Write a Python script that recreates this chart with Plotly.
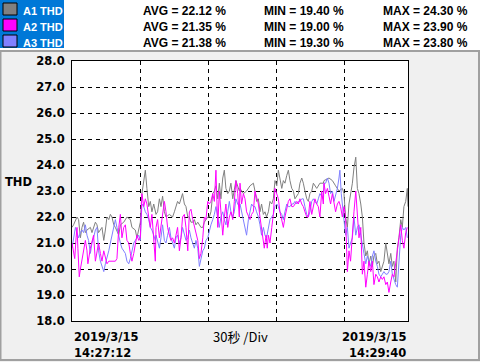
import plotly.graph_objects as go

# ---------------- data ----------------
series_names = ["A1 THD", "A2 THD", "A3 THD"]
series_colors = ["#808080", "#ff00ff", "#8080ff"]
avg_vals = [22.12, 21.35, 21.38]
min_vals = [19.40, 19.00, 19.30]
max_vals = [24.30, 23.90, 23.80]

start_label = ["2019/3/15", "14:27:12"]
end_label = ["2019/3/15", "14:29:40"]
div_label = "30秒 /Div"
y_title = "THD"
y_ticks = [18, 19, 20, 21, 22, 23, 24, 25, 26, 27, 28]

# seconds from start, THD %
a1_t = [0, 0.7, 2.2, 2.9, 3.7, 4.4, 5.1, 5.9, 6.6, 8.1, 8.8, 10.3, 11.0, 11.7, 13.2, 14.0, 14.7, 15.4, 16.2, 16.9,
        17.6, 18.4, 19.1, 20.6, 21.3, 22.8, 24.2, 25.7, 26.4, 27.9, 28.6, 29.4, 30.1, 30.8, 31.6, 32.3, 33.0, 33.8,
        34.5, 35.2, 36.0, 37.0,
        37.7, 38.5, 39.2, 39.9, 40.7, 41.4, 42.9, 44.3, 45.1, 46.5, 47.3, 48.0, 48.7, 49.5, 50.2, 51.0, 51.7, 52.4,
        53.2, 53.9, 54.6, 55.4, 56.1, 56.8, 57.6, 58.3, 59.0, 59.8, 60.5, 61.2, 62.0, 62.7, 63.4, 64.2, 64.9, 65.6,
        66.4, 67.1, 67.8, 68.6, 69.3, 70.0, 70.8, 72.2, 73.7,
        74.0, 75.5, 76.9, 78.4, 79.9, 80.6, 81.3, 82.1, 82.8, 83.5, 84.3, 85.0, 85.7, 86.5, 87.2, 88.0, 88.7, 89.4,
        90.2, 90.9, 91.6, 92.4, 93.1, 93.8, 94.6, 95.3, 96.0, 96.8, 97.5, 98.2, 99.7, 100.4, 101.2, 101.9, 102.6,
        103.4, 104.1, 104.8, 105.6, 106.3, 107.8, 109.2, 110.7,
        111.0, 113.2, 114.7, 116.1, 117.6, 119.1, 119.8, 120.5, 121.3, 122.0, 122.7, 123.5, 124.2, 125.0, 125.7,
        126.4, 127.2, 127.9, 128.6, 129.4, 130.1, 130.8, 131.6, 132.3, 133.0, 133.8, 134.5, 135.2, 136.0, 136.7,
        137.4, 138.2, 138.9, 139.6, 140.4, 141.1, 141.8, 142.6, 143.3, 144.0, 144.8, 145.5, 146.2, 147.0, 147.7,
        148.0]
a1_v = [21.6, 21.7, 22.0, 21.9, 21.2, 21.6, 21.8, 21.4, 21.5, 21.6, 21.4, 21.8, 21.7, 21.4, 21.6, 21.1, 21.5, 22.0,
        21.9, 22.1, 22.0, 21.7, 21.6, 21.3, 21.7, 21.8, 22.0, 21.9, 21.6, 21.5, 21.2, 21.6, 21.8, 22.9, 23.3, 23.8,
        23.1, 22.4, 22.6, 22.2, 22.5, 22.1,
        22.2, 22.7, 22.4, 22.8, 22.2, 22.0, 22.1, 22.0, 22.2, 22.6, 22.5, 22.7, 22.9, 22.5, 22.4, 22.0, 22.0, 21.8,
        21.8, 21.9, 21.7, 21.8, 21.7, 21.6, 21.6, 21.8, 21.9, 22.0, 22.0, 22.2, 22.9, 23.0, 23.2, 22.7, 23.3, 22.7,
        23.5, 23.8, 23.1, 22.9, 23.0, 23.3, 22.7, 23.4, 23.0,
        23.1, 22.9, 23.0, 23.2, 23.3, 23.0, 22.6, 22.7, 22.2, 22.5, 22.1, 22.2, 22.0, 22.2, 22.6, 22.5, 22.7, 23.4,
        23.2, 23.8, 23.4, 23.1, 23.4, 23.3, 23.6, 23.8, 23.4, 23.1, 23.0, 22.7, 22.9, 23.3, 23.5, 23.3, 23.0,
        22.7, 22.6, 22.9, 23.0, 23.3, 23.1, 23.3, 23.3,
        23.4, 23.5, 23.4, 23.2, 23.0, 23.1, 22.9, 22.0, 21.6, 22.5, 22.9, 23.3, 23.9, 24.3, 23.1,
        22.9, 22.5, 22.0, 21.0, 20.5, 20.7, 20.2, 20.5, 20.1, 20.5, 20.6, 20.2, 20.3, 19.9, 20.1,
        20.3, 21.0, 20.5, 20.2, 20.6, 20.1, 20.3, 19.5, 20.8, 21.2, 21.9, 21.6, 22.4, 22.6, 23.1,
        22.4]

a2_t = [0, 0.7, 1.2, 1.8, 2.2, 2.6, 3.2, 3.7, 4.4, 5.1, 5.9, 6.6, 7.0, 8.1, 8.8, 9.5, 10.3, 11.0, 11.7, 12.5, 13.2,
        14.0, 14.7, 15.4, 16.2, 16.9, 17.6, 19.1, 19.8, 20.6, 21.3, 22.0, 22.8, 23.5, 24.2, 25.0, 25.7, 26.4, 27.2,
        27.9, 28.6, 29.4, 30.1, 30.8, 31.6, 32.3, 33.0, 33.8, 34.5, 35.2, 36.0, 36.7,
        37.0, 37.7, 38.5, 39.2, 39.9, 40.7, 41.4, 42.1, 42.9, 43.6, 44.3, 45.1, 45.8, 46.5, 47.3, 48.0, 48.7, 49.5,
        50.2, 51.0, 51.7, 52.4, 53.2, 53.9, 54.6, 55.4, 56.1, 56.8, 57.6, 58.3, 59.0, 59.8, 60.5, 61.2, 62.0, 62.7,
        63.4, 64.2, 64.9, 65.6, 66.4, 67.1, 67.8, 68.6, 69.3, 70.0, 70.8, 71.5, 72.2, 73.0, 73.7,
        74.0, 74.7, 75.5, 76.2, 76.9, 77.7, 78.4, 79.1, 79.9, 80.6, 81.3, 82.1, 82.8, 83.5, 84.3, 84.7, 85.5, 86.0,
        86.5, 87.2, 88.0, 88.7, 89.4, 90.2, 90.9, 91.6, 92.4, 93.1, 93.8, 94.6, 95.3, 96.0, 96.8, 97.5, 98.2, 99.0,
        99.7, 100.4, 101.2, 101.9, 102.6, 103.4, 104.1, 104.8, 105.6, 106.3, 107.0, 107.8, 108.5, 109.2, 110.0, 110.7,
        111.0, 111.7, 112.5, 113.2, 113.9, 114.7, 115.4, 116.1, 116.9, 117.6, 118.3, 119.1, 119.8, 120.5, 121.3,
        122.0, 122.7, 123.5, 124.2, 125.0, 125.7, 126.4, 127.2, 127.9, 128.6, 129.4, 130.1, 130.8, 131.6, 132.3,
        133.0, 133.8, 134.5, 135.2, 136.0, 136.7, 137.4, 138.2, 138.9, 139.6, 140.4, 141.1, 141.8, 142.6, 143.3,
        144.0, 144.8, 145.5, 146.2, 147.0, 147.7]
a2_v = [21.0, 20.6, 20.4, 21.2, 21.6, 20.8, 19.7, 20.0, 20.4, 20.7, 21.1, 20.7, 20.2, 20.8, 21.1, 21.3, 20.3, 20.6,
        21.0, 20.6, 20.3, 20.7, 20.4, 20.2, 20.3, 20.3, 20.3, 20.3, 20.4, 21.6, 22.1, 21.2, 21.6, 21.7, 21.1, 21.0,
        20.6, 20.3, 20.6, 21.0, 21.3, 21.1, 21.2, 22.9, 22.4, 22.7, 22.5, 22.0, 21.6, 22.1, 21.2, 20.3,
        21.6, 21.9, 21.2, 21.7, 22.2, 22.6, 22.2, 21.6, 21.3, 21.1, 21.2, 21.0, 21.3, 21.6, 20.7, 21.2, 22.0, 22.1,
        21.6, 20.7, 22.2, 22.3, 21.9, 21.6, 21.3, 21.1, 20.4, 20.6, 21.2, 22.0, 21.9, 22.6, 22.5, 22.6, 22.9, 22.6,
        23.8, 21.6, 23.0, 22.0, 21.3, 22.0, 22.5, 21.6, 22.0, 22.2, 21.9, 22.6, 23.4, 22.9, 22.0,
        23.3, 22.5, 22.9, 22.7, 22.2, 22.0, 21.9, 22.1, 22.2, 23.0, 22.7, 22.5, 22.0, 21.5, 21.1, 20.8, 21.3, 20.8,
        21.3, 21.0, 21.6, 22.1, 23.1, 22.9, 22.7, 22.2, 21.9, 21.6, 22.0, 22.4, 22.6, 22.7, 22.4, 22.4, 22.5, 22.6,
        22.5, 22.7, 22.5, 22.4, 22.2, 22.0, 22.0, 22.6, 22.1, 22.4, 22.7, 22.5, 22.4, 22.0, 23.0, 22.5,
        23.3, 22.9, 23.1, 22.8, 22.5, 22.9, 22.6, 22.2, 22.5, 22.6, 22.4, 22.0, 22.4, 22.0, 19.9,
        20.7, 20.3, 21.5, 22.2, 23.0, 22.0, 21.2, 21.6, 19.8, 20.3, 19.3, 19.8, 20.3, 19.9, 20.3,
        19.4, 19.8, 19.7, 19.5, 19.7, 19.6, 19.7, 19.4, 19.5, 19.1, 19.5, 19.8, 19.7, 20.2, 20.7,
        21.1, 21.7, 21.1, 20.8, 21.4, 21.6]

a3_t = [0, 0.7, 1.5, 2.2, 2.9, 3.7, 4.4, 5.1, 5.9, 6.6, 7.3, 8.1, 8.8, 9.5, 10.3, 11.0, 11.7, 12.5, 13.2, 14.0, 14.7,
        15.4, 16.2, 16.9, 17.6, 18.4, 19.1, 19.8, 20.6, 21.3, 22.0, 22.8, 23.5, 24.2, 25.0, 25.7, 26.4, 27.2, 27.9,
        28.6, 29.4, 30.1, 30.8, 31.6, 32.3, 33.0, 33.8, 34.5, 35.2, 36.0, 36.7,
        37.0, 37.7, 38.5, 39.2, 39.9, 40.7, 41.4, 42.1, 42.9, 43.6, 44.3, 45.1, 45.8, 46.5, 47.3, 48.0, 48.7, 49.5,
        50.2, 51.0, 51.7, 52.4, 53.2, 53.9, 54.6, 55.4, 56.1, 56.8, 57.6, 58.3, 59.0, 59.8, 60.5, 61.2, 62.0, 62.7,
        63.4, 64.2, 64.9, 65.6, 66.4, 67.1, 67.8, 68.6, 69.3, 70.0, 70.8, 71.5, 72.2, 73.0, 73.7,
        74.0, 74.7, 75.5, 76.2, 76.9, 77.7, 78.4, 79.1, 79.9, 80.6, 81.3, 82.1, 82.8, 83.5, 84.3, 85.0, 85.7, 86.5,
        87.2, 88.0, 88.7, 89.4, 90.2, 90.9, 91.6, 92.4, 93.1, 93.8, 94.6, 95.3, 96.0, 96.8, 97.5, 98.2, 99.0, 99.7,
        100.4, 101.2, 101.9, 102.6, 103.4, 104.1, 104.8, 105.6, 106.3, 107.0, 107.8, 108.5, 109.2, 110.0, 110.7,
        111.0, 111.7, 112.5, 113.2, 113.9, 114.7, 115.4, 116.1, 116.9, 117.6, 118.0, 118.6, 119.1, 119.8, 120.5,
        121.3, 122.0, 122.7, 123.5, 124.2, 125.0, 125.7, 126.4, 127.2, 127.9, 128.6, 129.4, 130.1, 130.8, 131.6,
        132.3, 133.0, 133.8, 134.5, 135.2, 136.0, 136.7, 137.4, 138.2, 138.9, 139.6, 140.4, 141.1, 141.8, 142.6,
        143.3, 144.0, 144.8, 145.5, 146.2, 147.0, 147.7]
a3_v = [20.8, 21.2, 21.6, 21.4, 21.2, 21.4, 21.5, 21.4, 21.7, 21.3, 21.1, 20.6, 21.0, 21.2, 21.5, 21.6, 20.7, 20.3,
        20.1, 19.9, 20.2, 20.4, 20.7, 21.0, 21.3, 21.5, 21.9, 21.6, 21.2, 21.0, 20.8, 20.7, 20.6, 20.3, 20.2, 20.4,
        20.7, 21.0, 21.1, 21.2, 21.3, 21.1, 22.5, 22.4, 22.2, 22.1, 21.9, 21.6, 21.5, 21.3, 21.1,
        21.3, 21.0, 20.8, 21.2, 21.7, 21.1, 21.0, 21.3, 21.6, 21.2, 21.0, 20.8, 21.2, 21.3, 21.0, 21.2, 21.6, 21.3,
        21.1, 21.2, 21.5, 21.2, 21.0, 20.8, 21.1, 20.8, 20.1, 20.4, 20.7, 20.8, 21.1, 21.2, 21.5, 21.7, 21.9, 22.1,
        22.4, 21.9, 21.6, 22.0, 22.2, 21.9, 21.7, 22.2, 22.6, 22.2, 22.0, 22.2, 22.7, 22.5, 22.4,
        22.5, 22.2, 22.0, 21.6, 21.3, 21.9, 22.2, 22.5, 22.4, 22.4, 22.2, 22.0, 21.7, 21.3, 21.6, 21.3, 21.2, 21.6,
        21.9, 22.0, 22.1, 22.4, 22.5, 22.4, 22.2, 22.1, 21.9, 22.2, 22.5, 22.4, 22.4, 22.5, 22.5, 22.6, 22.5, 22.6,
        22.6, 22.7, 22.7, 22.4, 22.1, 22.0, 22.2, 22.6, 22.7, 22.6, 22.5, 22.7, 22.9, 22.8, 22.7,
        23.3, 23.3, 23.5, 23.3, 22.9, 23.0, 22.6, 22.8, 23.1, 23.5, 23.8, 22.9, 22.4, 22.0, 21.3,
        21.6, 20.8, 21.0, 21.2, 22.0, 21.3, 21.6, 21.7, 21.3, 21.0, 20.6, 20.2, 20.5, 20.3, 20.1,
        20.5, 20.7, 20.3, 20.1, 19.8, 19.7, 19.8, 19.9, 19.8, 19.8, 19.9, 20.3, 19.8, 19.6, 19.4,
        19.3, 20.3, 21.3, 21.6, 21.5, 21.6, 21.2]

series_t = [a1_t, a2_t, a3_t]
series_v = [a1_v, a2_v, a3_v]

# ---------------- layout helpers (pixel -> paper) ----------------
W, H = 480, 362
L, R, T, B = 72, 408, 61, 321


def xp(px):
    return (px - L) / (R - L)


def yp(py):
    return (B - py) / (B - T)


fig = go.Figure()

draw_order = [0, 2, 1]
for i in draw_order:
    fig.add_trace(go.Scatter(
        x=series_t[i], y=series_v[i], mode="lines", name=series_names[i],
        line=dict(color=series_colors[i], width=1), hoverinfo="skip", showlegend=False))

shapes = []
# header white band
shapes.append(dict(type="rect", xref="paper", yref="paper", x0=xp(0), x1=xp(W), y0=yp(50), y1=yp(0),
                   fillcolor="white", line=dict(width=0), layer="below"))
# separator
shapes.append(dict(type="rect", xref="paper", yref="paper", x0=xp(0), x1=xp(W), y0=yp(52), y1=yp(50),
                   fillcolor="#a0a0a0", line=dict(width=0)))
# outer frame
shapes.append(dict(type="rect", xref="paper", yref="paper", x0=xp(0.5), x1=xp(479), y0=yp(360), y1=yp(51),
                   fillcolor="rgba(0,0,0,0)", line=dict(color="#a0a0a0", width=2)))
# blue highlight behind names
shapes.append(dict(type="rect", xref="paper", yref="paper", x0=xp(0), x1=xp(64), y0=yp(48), y1=yp(0),
                   fillcolor="#0078d7", line=dict(width=0)))

annotations = []
for i in range(3):
    top = 3 + 16 * i
    shapes.append(dict(type="rect", xref="paper", yref="paper", x0=xp(3), x1=xp(17), y0=yp(top + 12), y1=yp(top),
                       fillcolor=series_colors[i], line=dict(color="black", width=1)))
    cy = 10.5 + 16 * i
    annotations.append(dict(xref="paper", yref="paper", x=xp(21), y=yp(cy), xanchor="left", yanchor="middle",
                            text="<b>%s</b>" % series_names[i], showarrow=False,
                            font=dict(family="Liberation Sans", size=11, color="white", weight="bold")))
    for xpx, lab, val in [(141, "AVG", avg_vals[i]), (262, "MIN", min_vals[i]), (381, "MAX", max_vals[i])]:
        annotations.append(dict(xref="paper", yref="paper", x=xp(xpx), y=yp(cy), xanchor="left",
                                yanchor="middle", text="<b>%s = %.2f %%</b>" % (lab, val), showarrow=False,
                                font=dict(family="Liberation Sans", size=12, color="black", weight="bold")))

axis_font = dict(family="DejaVu Sans", size=11.5, color="black")
annotations.append(dict(xref="paper", yref="paper", x=xp(3), y=yp(182), xanchor="left", yanchor="middle",
                        text="<b>%s</b>" % y_title, showarrow=False, font=axis_font))
annotations.append(dict(xref="paper", yref="paper", x=xp(72), y=yp(337), xanchor="left", yanchor="middle",
                        text="<b>%s</b>" % start_label[0], showarrow=False, font=axis_font))
annotations.append(dict(xref="paper", yref="paper", x=xp(72), y=yp(353), xanchor="left", yanchor="middle",
                        text="<b>%s</b>" % start_label[1], showarrow=False, font=axis_font))
annotations.append(dict(xref="paper", yref="paper", x=xp(408), y=yp(337), xanchor="right", yanchor="middle",
                        text="<b>%s</b>" % end_label[0], showarrow=False, font=axis_font))
annotations.append(dict(xref="paper", yref="paper", x=xp(408), y=yp(353), xanchor="right", yanchor="middle",
                        text="<b>%s</b>" % end_label[1], showarrow=False, font=axis_font))
annotations.append(dict(xref="paper", yref="paper", x=xp(240), y=yp(336), xanchor="center", yanchor="middle",
                        text=div_label, showarrow=False,
                        font=dict(family="Noto Sans CJK SC", size=13, color="black")))

fig.update_layout(
    width=W, height=H,
    margin=dict(l=L, r=W - R, t=T, b=H - B, pad=0),
    paper_bgcolor="#f0f0f0", plot_bgcolor="white",
    shapes=shapes, annotations=annotations, showlegend=False,
    xaxis=dict(range=[0, 148], tick0=0, dtick=30, showticklabels=False, ticks="",
               showgrid=True, gridcolor="black", gridwidth=1, griddash="4px,4px",
               showline=True, linecolor="black", linewidth=1, mirror=True, zeroline=False, fixedrange=True),
    yaxis=dict(range=[18, 28], tickvals=y_ticks, ticktext=["%.1f" % v for v in y_ticks],
               tickfont=dict(family="DejaVu Sans", size=11.5, color="black", weight="bold"), ticks="",
               ticklabelstandoff=4,
               showgrid=True, gridcolor="black", gridwidth=1, griddash="4px,4px",
               showline=True, linecolor="black", linewidth=1, mirror=True, zeroline=False, fixedrange=True),
)

fig.write_html(
    "out.html",
    config={"displayModeBar": False},
    post_script="document.body.style.margin='0';document.body.style.overflow='hidden';",
)
